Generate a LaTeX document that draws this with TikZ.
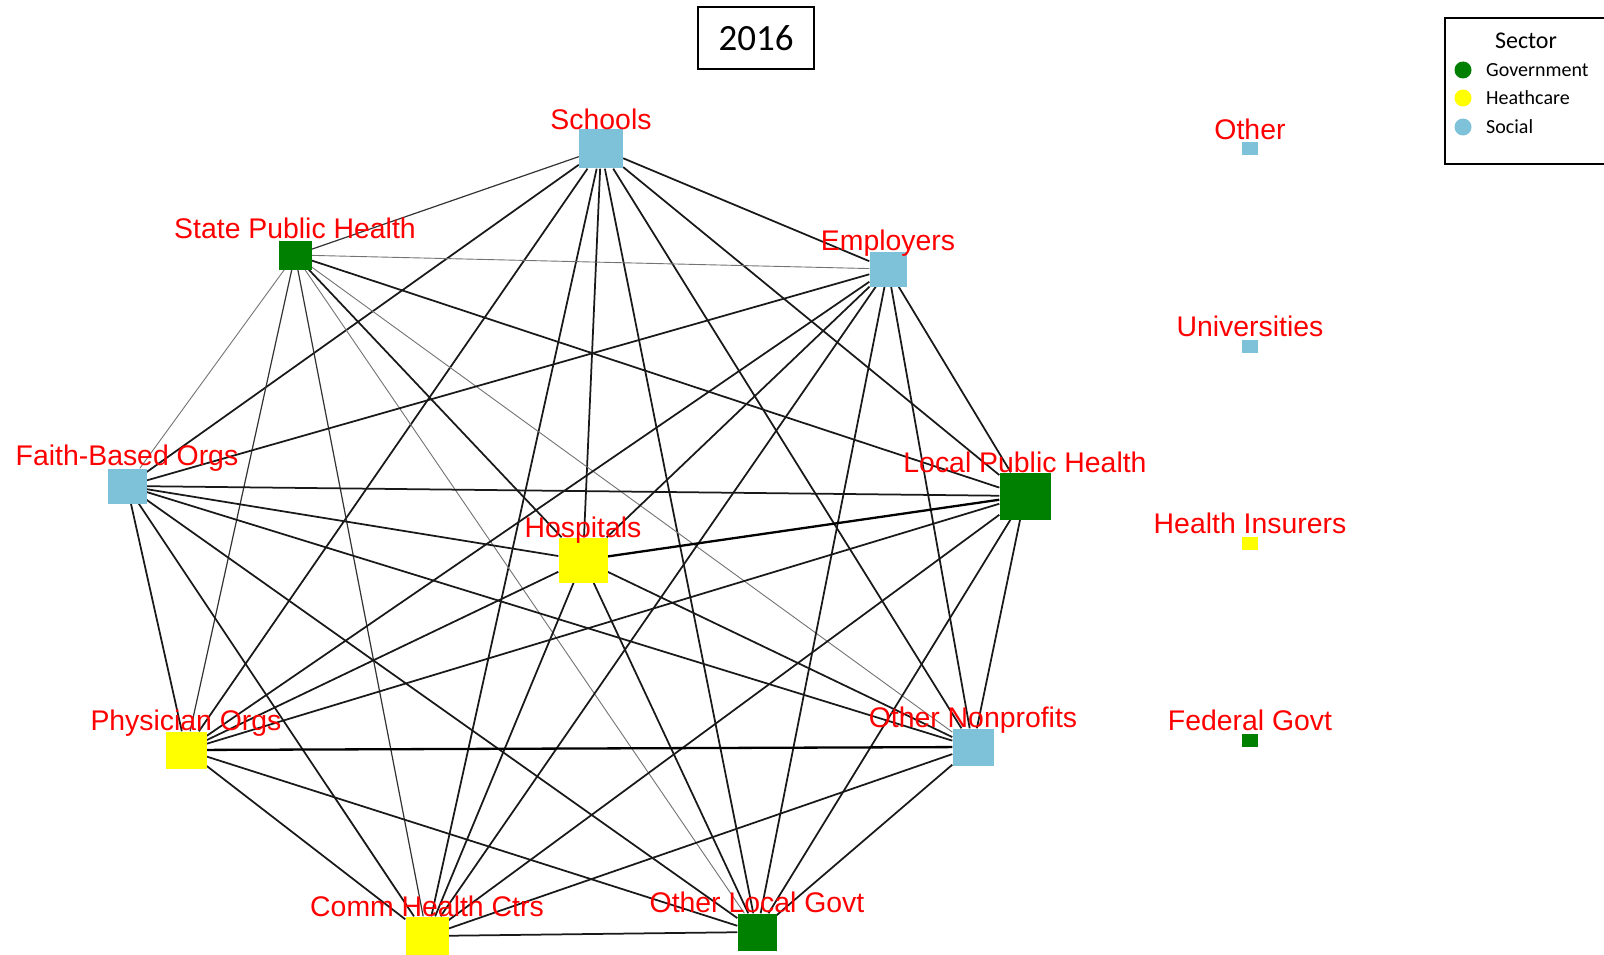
\documentclass[tikz,border=0pt]{standalone}
\usepackage{fontspec}
\setmainfont{Liberation Sans}
\newfontfamily\carlito{Carlito}
\usetikzlibrary{backgrounds}
\definecolor{gov}{RGB}{0,128,0}
\definecolor{hc}{RGB}{255,255,0}
\definecolor{soc}{RGB}{126,194,218}
\definecolor{labred}{RGB}{255,0,0}
\begin{document}
\begin{tikzpicture}[x=1pt,y=-1pt,
  box/.style={rectangle, inner sep=0pt, draw=none},
  govn/.style={box, fill=gov},
  hcn/.style={box, fill=hc},
  socn/.style={box, fill=soc},
  lab/.style={text=labred, font=\fontsize{28.4}{28}\selectfont, anchor=base, inner sep=0pt},
  e/.style={line width=1.75pt, black!90},
  ethick/.style={line width=2.3pt, black},
  emed/.style={line width=1.2pt, black!80},
  ethin/.style={line width=0.9pt, black!55},
  legdot/.style={circle, inner sep=0pt, minimum size=17pt},
  legtxt/.style={anchor=west, inner sep=0pt, font=\carlito\fontsize{20}{20}\selectfont}
]
\useasboundingbox (0,0) rectangle (1604,955);

% title
\node[draw, line width=1.2pt, minimum width=116pt, minimum height=62pt, inner sep=0pt,
      font=\carlito\fontsize{37}{37}\selectfont] (title) at (756,38) {2016};

% legend
\node[draw, line width=1.2pt, minimum width=165pt, minimum height=146pt, inner sep=0pt] (legend) at (1527.5,91) {};
\node[inner sep=0pt, font=\carlito\fontsize{24}{24}\selectfont] (legtitle) at (1526,41) {Sector};
\node[legdot, fill=gov] (ld1) at (1463,70) {};
\node[legtxt] (lt1) at (1486,70) {Government};
\node[legdot, fill=hc] (ld2) at (1463,98) {};
\node[legtxt] (lt2) at (1486,98) {Heathcare};
\node[legdot, fill=soc] (ld3) at (1463,127) {};
\node[legtxt] (lt3) at (1486,127) {Social};

% nodes
\node[socn, minimum width=44pt, minimum height=39pt] (S) at (601,149) {};
\node[govn, minimum width=33pt, minimum height=29pt] (SPH) at (295,255) {};
\node[socn, minimum width=37pt, minimum height=35pt] (E) at (888,269) {};
\node[socn, minimum width=39pt, minimum height=35pt] (F) at (127,486) {};
\node[govn, minimum width=51pt, minimum height=47pt] (L) at (1025,496) {};
\node[hcn, minimum width=49pt, minimum height=45pt] (H) at (583,560) {};
\node[hcn, minimum width=41pt, minimum height=37pt] (P) at (186,750) {};
\node[socn, minimum width=41pt, minimum height=37pt] (N) at (973,747) {};
\node[hcn, minimum width=43pt, minimum height=39pt] (C) at (427,936) {};
\node[govn, minimum width=39pt, minimum height=37pt] (G) at (757,932) {};
\node[socn, minimum width=16pt, minimum height=13pt] (O) at (1250,149) {};
\node[socn, minimum width=16pt, minimum height=13pt] (U) at (1250,346) {};
\node[hcn, minimum width=16pt, minimum height=13pt] (I) at (1250,543) {};
\node[govn, minimum width=16pt, minimum height=13pt] (D) at (1250,740) {};

% edges
\begin{pgfonlayer}{background}
\fill[white] (0,0) rectangle (1604,955);
\draw[emed] (S) -- (SPH);
\draw[e] (S) -- (E);
\draw[e] (S) -- (F);
\draw[e] (S) -- (P);
\draw[e] (S) -- (C);
\draw[e] (S) -- (H);
\draw[e] (S) -- (G);
\draw[e] (S) -- (N);
\draw[e] (S) -- (L);
\draw[ethin] (SPH) -- (E);
\draw[e] (SPH) -- (L);
\draw[ethin] (SPH) -- (F);
\draw[emed] (SPH) -- (P);
\draw[emed] (SPH) -- (C);
\draw[e] (SPH) -- (H);
\draw[ethin] (SPH) -- (G);
\draw[ethin] (SPH) -- (N);
\draw[e] (E) -- (F);
\draw[e] (E) -- (P);
\draw[e] (E) -- (H);
\draw[e] (E) -- (C);
\draw[e] (E) -- (G);
\draw[e] (E) -- (N);
\draw[e] (E) -- (L);
\draw[e] (F) -- (L);
\draw[e] (F) -- (H);
\draw[e] (F) -- (N);
\draw[e] (F) -- (G);
\draw[e] (F) -- (C);
\draw[e] (F) -- (P);
\draw[ethick] (L) -- (H);
\draw[e] (L) -- (P);
\draw[e] (L) -- (C);
\draw[e] (L) -- (G);
\draw[e] (L) -- (N);
\draw[e] (H) -- (P);
\draw[e] (H) -- (C);
\draw[e] (H) -- (G);
\draw[e] (H) -- (N);
\draw[ethick] (P) -- (N);
\draw[e] (P) -- (C);
\draw[e] (P) -- (G);
\draw[e] (N) -- (C);
\draw[e] (N) -- (G);
\draw[e] (C) -- (G);
\end{pgfonlayer}

% labels
\node[lab] (S-l) at (S.north) {Schools};
\node[lab] (SPH-l) at ([yshift=2pt]SPH.north) {State Public Health};
\node[lab] (E-l) at ([yshift=1pt]E.north) {Employers};
\node[lab] (F-l) at ([yshift=3pt]F.north) {Faith-Based Orgs};
\node[lab] (L-l) at (L.north) {Local Public Health};
\node[lab] (H-l) at (H.north) {Hospitals};
\node[lab] (P-l) at ([yshift=1pt]P.north) {Physician Orgs};
\node[lab] (N-l) at ([yshift=1pt]N.north) {Other Nonprofits};
\node[lab] (C-l) at (C.north) {Comm Health Ctrs};
\node[lab] (G-l) at ([yshift=1pt]G.north) {Other Local Govt};
\node[lab] (O-l) at ([yshift=3pt]O.north) {Other};
\node[lab] (U-l) at ([yshift=3pt]U.north) {Universities};
\node[lab] (I-l) at ([yshift=3pt]I.north) {Health Insurers};
\node[lab] (D-l) at ([yshift=3pt]D.north) {Federal Govt};
\end{tikzpicture}
\end{document}
